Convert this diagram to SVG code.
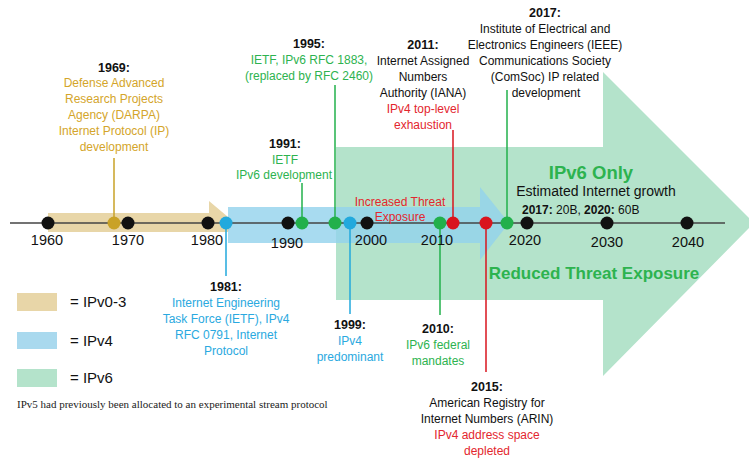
<svg xmlns="http://www.w3.org/2000/svg" width="749" height="459" viewBox="0 0 749 459">
<style>
text{font-family:"Liberation Sans",Arial,sans-serif;font-size:12px;text-anchor:middle}
.h{font-weight:bold;fill:#111;font-size:12.5px}
.gold{fill:#d4a52a}
.grn{fill:#2db34f}
.red{fill:#e3262e}
.blu{fill:#2aa9e0}
.blk{fill:#111}
.yr{font-size:14.5px;fill:#111}
.leg{font-size:15px;fill:#111;text-anchor:start}
.dk{fill:#111}
.dg{fill:#c9a227}
.dgr{fill:#22b04b}
.db{fill:#22a9dd}
.dr{fill:#d9151e}
</style>
<rect width="749" height="459" fill="#fff"/>
<g id="bands">
<polygon points="336,147 603,147 603,72 754,223 603,376 603,300 336,300" fill="#b4e3cb"/>
<polygon points="48,213 209,213 209,201 234,222 228,232 48,232" fill="#e8d6a8"/>
<polygon points="228,207 480,207 480,187 509,223 480,260 480,243 228,243" fill="#92d2ec" fill-opacity="0.8"/>
</g>
<g id="connectors" stroke-width="1.5">
<line x1="10" y1="223" x2="725" y2="223" stroke="#444"/>
<line x1="114" y1="158" x2="114" y2="223" stroke="#c9a227"/>
<line x1="302" y1="183" x2="302" y2="223" stroke="#22b04b"/>
<line x1="335" y1="85" x2="335" y2="223" stroke="#22b04b"/>
<line x1="453" y1="130" x2="453" y2="223" stroke="#d9151e"/>
<line x1="507" y1="90" x2="507" y2="223" stroke="#22b04b"/>
<line x1="226" y1="223" x2="226" y2="276" stroke="#22a9dd"/>
<line x1="350" y1="223" x2="350" y2="314" stroke="#22a9dd"/>
<line x1="440" y1="223" x2="440" y2="315" stroke="#22b04b"/>
<line x1="486" y1="223" x2="486" y2="372" stroke="#d9151e"/>
</g>
<g id="dots">
<circle cx="48" cy="223" r="6.5" class="dk"/>
<circle cx="114" cy="223" r="6.5" class="dg"/>
<circle cx="128" cy="223" r="6.5" class="dk"/>
<circle cx="208" cy="223" r="6.5" class="dk"/>
<circle cx="226" cy="223" r="6.5" class="db"/>
<circle cx="288" cy="223" r="6.5" class="dk"/>
<circle cx="302" cy="223" r="6.5" class="dgr"/>
<circle cx="335" cy="223" r="6.5" class="dgr"/>
<circle cx="350" cy="223" r="6.5" class="db"/>
<circle cx="367" cy="223" r="6.5" class="dk"/>
<circle cx="440" cy="223" r="6.5" class="dgr"/>
<circle cx="453" cy="223" r="6.5" class="dr"/>
<circle cx="486" cy="223" r="6.5" class="dr"/>
<circle cx="507" cy="223" r="6.5" class="dgr"/>
<circle cx="527" cy="223" r="6.5" class="dk"/>
<circle cx="607" cy="223" r="6.5" class="dk"/>
<circle cx="687" cy="223" r="6.5" class="dk"/>
</g>
<g id="years">
<text class="yr" x="47" y="245">1960</text>
<text class="yr" x="128" y="245">1970</text>
<text class="yr" x="207" y="245">1980</text>
<text class="yr" x="287" y="248">1990</text>
<text class="yr" x="371" y="245">2000</text>
<text class="yr" x="437" y="245">2010</text>
<text class="yr" x="525" y="245">2020</text>
<text class="yr" x="607" y="247">2030</text>
<text class="yr" x="688" y="247">2040</text>
</g>
<g id="e1969">
<text class="h" x="114" y="72">1969:</text>
<text class="gold" x="114" y="87">Defense Advanced</text>
<text class="gold" x="114" y="103">Research Projects</text>
<text class="gold" x="114" y="119">Agency (DARPA)</text>
<text class="gold" x="114" y="135">Internet Protocol (IP)</text>
<text class="gold" x="114" y="151">development</text>
</g>
<g id="e1991">
<text class="h" x="285" y="148">1991:</text>
<text class="grn" x="285" y="164">IETF</text>
<text class="grn" x="284" y="179">IPv6 development</text>
</g>
<g id="e1995">
<text class="h" x="309" y="48">1995:</text>
<text class="grn" x="309" y="64">IETF, IPv6 RFC 1883,</text>
<text class="grn" x="309" y="80">(replaced by RFC 2460)</text>
</g>
<g id="e2011">
<text class="h" x="423" y="49">2011:</text>
<text class="blk" x="423" y="65">Internet Assigned</text>
<text class="blk" x="423" y="81">Numbers</text>
<text class="blk" x="423" y="97">Authority (IANA)</text>
<text class="red" x="423" y="113">IPv4 top-level</text>
<text class="red" x="423" y="129">exhaustion</text>
</g>
<g id="e2017">
<text class="h" x="545" y="17">2017:</text>
<text class="blk" x="545" y="33">Institute of Electrical and</text>
<text class="blk" x="545" y="49">Electronics Engineers (IEEE)</text>
<text class="blk" x="545" y="65">Communications Society</text>
<text class="blk" x="545" y="81">(ComSoc) IP related</text>
<text class="blk" x="546" y="97">development</text>
</g>
<g id="ipv6only">
<text x="591" y="179" style="font-size:18.5px;font-weight:bold;fill:#2db34f">IPv6 Only</text>
<text x="596" y="196" style="font-size:14px;fill:#111">Estimated Internet growth</text>
<text x="522" y="214" style="font-size:12px;fill:#111;text-anchor:start"><tspan font-weight="bold">2017:</tspan> 20B, <tspan font-weight="bold">2020:</tspan> 60B</text>
</g>
<g id="increased">
<text class="red" x="400" y="206">Increased Threat</text>
<text class="red" x="400" y="221">Exposure</text>
</g>
<g id="reduced">
<text x="594" y="279" style="font-size:17px;font-weight:bold;fill:#2db34f">Reduced Threat Exposure</text>
</g>
<g id="e1981">
<text class="h" x="226" y="291">1981:</text>
<text class="blu" x="226" y="307">Internet Engineering</text>
<text class="blu" x="226" y="323">Task Force (IETF), IPv4</text>
<text class="blu" x="226" y="339">RFC 0791, Internet</text>
<text class="blu" x="226" y="355">Protocol</text>
</g>
<g id="e1999">
<text class="h" x="350" y="329">1999:</text>
<text class="blu" x="350" y="345">IPv4</text>
<text class="blu" x="350" y="361">predominant</text>
</g>
<g id="e2010">
<text class="h" x="438" y="333">2010:</text>
<text class="grn" x="438" y="349">IPv6 federal</text>
<text class="grn" x="438" y="365">mandates</text>
</g>
<g id="e2015">
<text class="h" x="487" y="391">2015:</text>
<text class="blk" x="487" y="407">American Registry for</text>
<text class="blk" x="487" y="423">Internet Numbers (ARIN)</text>
<text class="red" x="487" y="439">IPv4 address space</text>
<text class="red" x="487" y="455">depleted</text>
</g>
<g id="legend">
<rect x="17" y="293" width="40" height="18" fill="#e8d6a8"/>
<rect x="17" y="332" width="40" height="17" fill="#a9d9ee"/>
<rect x="17" y="369" width="40" height="18" fill="#b4e3cb"/>
<text class="leg" x="70" y="307">= IPv0-3</text>
<text class="leg" x="70" y="346">= IPv4</text>
<text class="leg" x="70" y="383">= IPv6</text>
<text x="17" y="408" style="font-family:'Liberation Serif','Times New Roman',serif;font-size:11px;fill:#222;text-anchor:start">IPv5 had previously been allocated to an experimental stream protocol</text>
</g>
</svg>
